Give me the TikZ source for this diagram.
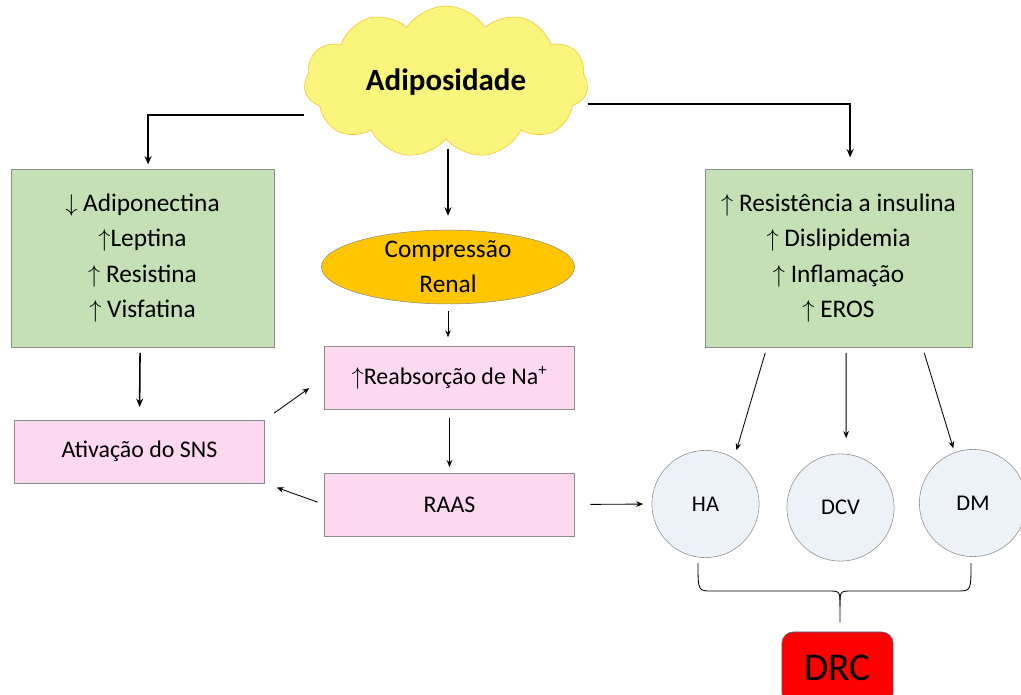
\documentclass[tikz,border=0pt]{standalone}
\usepackage{fontspec}
\setmainfont{Carlito}
\usepackage{tikz}
\usetikzlibrary{arrows.meta,positioning,shapes.geometric,shapes.symbols}
\definecolor{leafgreen}{HTML}{C5E0B4}
\definecolor{blush}{HTML}{FDD8F1}
\definecolor{mist}{HTML}{EDF2F9}
\definecolor{amberfill}{HTML}{FFC600}
\definecolor{cloudfill}{HTML}{F9F57C}
\definecolor{cloudline}{HTML}{F2C52A}
\definecolor{boxline}{HTML}{8C8C8C}
\definecolor{drcline}{HTML}{41719C}
\newcommand{\aup}{$\uparrow$}
\newcommand{\adn}{$\downarrow$}

\begin{document}
\begin{tikzpicture}[x=0.025cm,y=-0.025cm,>={Stealth[length=5pt,width=4pt]},
  gbox/.style={draw=boxline,fill=leafgreen,align=center,minimum height=4.45cm,font=\fontsize{18}{25}\selectfont},
  pbox/.style={draw=boxline,fill=blush,minimum width=6.25cm,minimum height=1.575cm,font=\fontsize{17}{20}\selectfont},
  circ/.style={circle,draw=boxline,fill=mist,minimum size=2.68cm,font=\fontsize{16}{18}\selectfont},
  arr/.style={->,semithick},
  bold arr/.style={->,line width=1.1pt,>={Stealth[length=6pt,width=5pt]}}]
  \useasboundingbox (0,0) rectangle (1021,695);
  \node[cloud,cloud puffs=11,cloud puff arc=115,aspect=2,draw=cloudline,fill=cloudfill,minimum width=7.1cm,minimum height=3.5cm,font=\fontsize{22}{24}\selectfont\bfseries] (adip) at (446,82) {Adiposidade};
  \node[gbox,minimum width=6.575cm] (lbox) at (142.5,258) {\adn{} Adiponectina\\\aup{}Leptina\\\aup{} Resistina\\\aup{} Visfatina};
  \node[gbox,minimum width=6.675cm] (rbox) at (838.5,258) {\aup{} Resistência a insulina\\\aup{} Dislipidemia\\\aup{} Inflamação\\\aup{} EROS};
  \node[ellipse,draw=boxline,fill=amberfill,minimum width=6.325cm,minimum height=1.65cm,inner sep=0pt,align=center,font=\fontsize{18}{25}\selectfont] (renal) at (448,267) {Compressão\\Renal};
  \node[pbox] (reabs) at (449.5,377.5) {\aup{}Reabsorção de Na\textsuperscript{+}};
  \node[pbox] (ativ) at (139.5,451.5) {Ativação do SNS};
  \node[pbox] (raas) at (449.5,504.5) {RAAS};
  \node[circ] (ha) at (705.5,504) {HA};
  \node[circ] (dcv) at (840.5,507.5) {DCV};
  \node[circ] (dm) at (973,503) {DM};
  \node[draw=drcline,fill=red,rounded corners=8pt,minimum width=2.78cm,minimum height=1.8cm,font=\fontsize{28}{30}\selectfont] (drc) at (837.5,668) {DRC};
  % arrows from the cloud
  \draw[bold arr,shorten >=3pt] ([yshift=-0.83cm]adip.west) -| ([xshift=0.14cm]lbox.north);
  \draw[bold arr,shorten >=8pt] ([yshift=-0.55cm]adip.east) -| ([xshift=0.29cm]rbox.north);
  \draw[bold arr,shorten <=7pt,shorten >=10pt] (adip.south -| renal.north) -- (renal.north);
  % kidney chain
  \draw[arr,shorten <=5pt,shorten >=6pt] (renal.south) -- (renal.south |- reabs.north);
  \draw[arr,shorten <=6pt,shorten >=4pt] (reabs.south) -- (raas.north);
  \draw[bold arr,shorten <=4pt,shorten >=9pt] ([xshift=-0.06cm]lbox.south) -- (ativ.north);
  \draw[arr,shorten <=8pt,shorten >=13pt] (ativ.north east) -- (reabs.west);
  \draw[arr,shorten <=5pt,shorten >=9pt] (raas.west) -- (ativ.south east);
  \draw[arr,shorten <=11pt,shorten >=6pt] (raas.east) -- (ha.west);
  % to the diseases
  \draw[arr,shorten <=4pt,shorten >=6pt] ([xshift=-1.79cm]rbox.south) -- (ha.58);
  \draw[arr,shorten <=4pt,shorten >=11pt] ([xshift=0.19cm]rbox.south) -- ([xshift=0.14cm]dcv.north);
  \draw[arr,shorten <=4pt,shorten >=3pt] ([xshift=2.1cm]rbox.south) -- (dm.110);
  % brace
  \coordinate (bl) at (698,563);
  \coordinate (br) at (971,563);
  \coordinate (tip) at (840,622);
  \draw[semithick] (bl) .. controls (698,591) .. (712,591) -- (828,591) .. controls (840,591) .. (840,606) -- (tip);
  \draw[semithick] (br) .. controls (971,591) .. (957,591) -- (852,591) .. controls (840,591) .. (840,606);
\end{tikzpicture}
\end{document}
